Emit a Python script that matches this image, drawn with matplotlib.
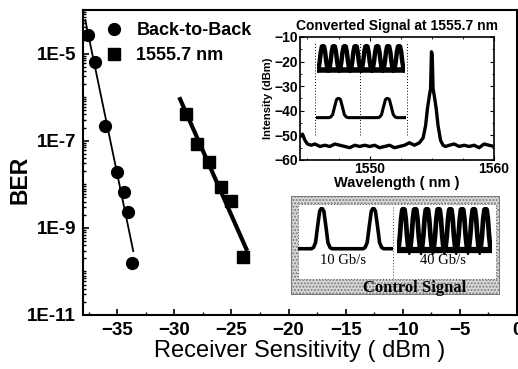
import numpy as np
import matplotlib
matplotlib.use("Agg")
import matplotlib.pyplot as plt
from matplotlib.ticker import FixedLocator, LogLocator, MultipleLocator, NullFormatter
from matplotlib.patches import Rectangle

plt.rcParams['font.family'] = ['Liberation Sans', 'DejaVu Sans']

# ---------------- data ----------------
b2b_x = [-37.55, -36.95, -36.05, -35.05, -34.4, -34.1, -33.75]
b2b_ber = [2.6e-5, 6.3e-6, 2.2e-7, 1.9e-8, 6.8e-9, 2.3e-9, 1.6e-10]
conv_x = [-29.0, -28.0, -26.95, -25.95, -25.0, -23.95]
conv_ber = [4.2e-7, 8.5e-8, 3.2e-8, 8.7e-9, 4.2e-9, 2.2e-10]
b2b_fit_range = [-37.8, -33.6]
conv_fit_range = [-29.5, -23.7]

x_ticks = [-35, -30, -25, -20, -15, -10, -5, 0]
y_ticks = [1e-11, 1e-9, 1e-7, 1e-5]
y_ticklabels = ['1E-11', '1E-9', '1E-7', '1E-5']

# inset spectrum (converted signal)
spec_wl = [1544.4, 1544.6, 1544.8, 1545.0, 1545.3, 1545.6, 1546.0, 1546.4, 1546.8, 1547.2,
           1547.6, 1548.0, 1548.4, 1548.8, 1549.2, 1549.6, 1550.0, 1550.4, 1550.8, 1551.2,
           1551.6, 1552.0, 1552.4, 1552.8, 1553.2, 1553.6, 1554.0, 1554.3, 1554.5, 1554.65,
           1554.8, 1554.9, 1554.97, 1555.03, 1555.1, 1555.2, 1555.35, 1555.5, 1555.7, 1555.9,
           1556.1, 1556.4, 1556.8, 1557.2, 1557.6, 1558.0, 1558.4, 1558.8, 1559.2, 1559.6, 1560.0]
spec_db = [-50.5, -49.5, -52.0, -53.5, -54.0, -53.5, -54.5, -54.0, -54.5, -53.5,
           -54.0, -54.5, -55.0, -54.0, -54.5, -54.0, -54.5, -54.0, -55.0, -54.5,
           -54.0, -55.0, -54.5, -54.0, -53.0, -54.0, -53.0, -51.0, -46.0, -39.0,
           -34.0, -31.0, -16.0, -17.0, -31.0, -34.0, -39.0, -46.0, -52.0, -54.0,
           -54.5, -54.0, -53.5, -54.5, -54.0, -54.5, -54.0, -55.0, -53.5, -54.0, -54.5]

# one pulse (normalised) as seen on the oscilloscope traces
pulse_shape = [0.0, 0.08, 0.35, 0.75, 0.97, 1.0, 0.97, 0.75, 0.35, 0.08]
n_pulses_40g = 8
ten_gb_trace = ([0.0] * 6 + [0.0, 0.03, 0.15, 0.55, 0.92, 1.0, 0.92, 0.55, 0.15, 0.03, 0.0]
                + [0.0] * 14 + [0.0, 0.03, 0.15, 0.55, 0.92, 1.0, 0.92, 0.55, 0.15, 0.03, 0.0] + [0.0] * 4)

# ---------------- figure ----------------
W, H = 518, 369
fig = plt.figure(figsize=(W / 100, H / 100), dpi=100)

def fax(x0, y0, x1, y1):
    return [x0 / W, 1 - y1 / H, (x1 - x0) / W, (y1 - y0) / H]

ax = fig.add_axes(fax(83, 10, 517, 315))
ax.set_yscale('log')
ax.set_xlim(-38, 0)
ax.set_ylim(1e-11, 1e-4)

# fit lines
p1 = np.polyfit(b2b_x, np.log10(b2b_ber), 1)
xx = np.array(b2b_fit_range)
ax.plot(xx, 10 ** np.polyval(p1, xx), color='black', lw=1.3, zorder=2)
p2 = np.polyfit(conv_x, np.log10(conv_ber), 1)
xx = np.array(conv_fit_range)
ax.plot(xx, 10 ** np.polyval(p2, xx), color='black', lw=3, zorder=2)

ax.plot(b2b_x, b2b_ber, 'o', color='black', ms=8.5, ls='none', label='Back-to-Back', zorder=3)
ax.plot(conv_x, conv_ber, 's', color='black', ms=8, ls='none', label='1555.7 nm', zorder=3)

ax.xaxis.set_major_locator(FixedLocator(x_ticks))
ax.xaxis.set_minor_locator(MultipleLocator(2.5))
ax.yaxis.set_major_locator(FixedLocator(y_ticks))
ax.set_yticklabels(y_ticklabels)
ax.yaxis.set_minor_locator(LogLocator(base=10, subs=np.arange(1, 10), numticks=50))
ax.yaxis.set_minor_formatter(NullFormatter())
ax.tick_params(which='both', direction='in', top=False, right=False)
ax.tick_params(which='major', length=4, width=1.2, labelsize=13.5, pad=5)
ax.tick_params(which='minor', length=2.5, width=1)
for lab in ax.get_xticklabels() + ax.get_yticklabels():
    lab.set_fontweight('bold')
for s in ax.spines.values():
    s.set_linewidth(1.5)
ax.set_xlabel('Receiver Sensitivity ( dBm )', fontsize=17, labelpad=1)
ax.set_ylabel('BER', fontsize=16.5, fontweight='bold')
ax.yaxis.set_label_coords(-0.118, 0.443)

leg = ax.legend(loc='upper left', bbox_to_anchor=(0.025, 0.995), frameon=False,
                prop={'size': 13, 'weight': 'bold'},
                handletextpad=0.75, labelspacing=0.45, handlelength=1.0, borderaxespad=0.2)

# ---------------- inset: converted spectrum ----------------
ax2 = fig.add_axes(fax(300, 37, 494, 160))
ax2.plot(spec_wl, spec_db, color='black', lw=2.4)
ax2.set_xlim(1544.4, 1560)
ax2.set_ylim(-60, -10)
ax2.set_xticks([1550, 1560])
ax2.set_yticks([-60, -50, -40, -30, -20, -10])
ax2.xaxis.set_minor_locator(MultipleLocator(2.5))
ax2.yaxis.set_minor_locator(MultipleLocator(5))
ax2.tick_params(which='both', direction='in', top=True, right=True)
ax2.tick_params(which='major', length=3, labelsize=10, pad=1.5)
ax2.tick_params(which='minor', length=1.5)
for lab in ax2.get_xticklabels() + ax2.get_yticklabels():
    lab.set_fontweight('bold')
for s in ax2.spines.values():
    s.set_linewidth(1.2)
ax2.set_title('Converted Signal at 1555.7 nm', fontsize=10, fontweight='bold', pad=5)
ax2.set_xlabel('Wavelength ( nm )', fontsize=10.5, fontweight='bold', labelpad=0)
ax2.set_ylabel('Intensity (dBm)', fontsize=8, fontweight='bold', labelpad=1)

# eye traces inside the spectrum inset
train = np.array(pulse_shape * n_pulses_40g + [0.0])
ax3 = fig.add_axes(fax(317, 44, 405, 73))
ax3.plot(np.arange(len(train)), train, color='black', lw=3.2, solid_joinstyle='miter')
ax3.plot([0, len(train) - 1], [0, 0], color='black', lw=4)
ax3.set_xlim(-0.5, len(train) - 0.5)
ax3.set_ylim(-0.12, 1.08)
ax3.axis('off')

t10 = np.arange(len(ten_gb_trace))
ax3b = fig.add_axes(fax(316, 97, 406, 120))
ax3b.plot(t10, ten_gb_trace, color='black', lw=2.2)
ax3b.set_xlim(-0.5, len(ten_gb_trace) - 0.5)
ax3b.set_ylim(-0.12, 1.05)
ax3b.axis('off')

for xp in (315, 360, 407):
    fig.add_artist(plt.Line2D([xp / W, xp / W], [1 - 135 / H, 1 - 42 / H], color='black',
                              lw=0.7, ls=(0, (1, 2))))

# ---------------- inset: control signal ----------------
ax4 = fig.add_axes(fax(291, 196, 500, 295))
ax4.set_xlim(0, 1)
ax4.set_ylim(0, 1)
ax4.add_patch(Rectangle((0, 0), 1, 1, facecolor='#d9d9d9', edgecolor='#7a7a7a', hatch='.....',
                        lw=1.4))
ax4.add_patch(Rectangle((0.033, 0.16), 0.948, 0.76, facecolor='white', edgecolor='#555555',
                        lw=0.7, ls=(0, (1, 2))))
ax4.plot([0.488, 0.488], [0.17, 0.9], color='#444444', lw=0.7, ls=(0, (1, 2)))
serif = ['Liberation Serif', 'DejaVu Serif']
ax4.text(0.25, 0.35, '10 Gb/s', ha='center', va='center', fontsize=10.5, family=serif)
ax4.text(0.725, 0.35, '40 Gb/s', ha='center', va='center', fontsize=10.5, family=serif)
ax4.text(0.593, 0.075, 'Control Signal', ha='center', va='center', fontsize=12,
         fontweight='bold', family=serif)
ax4.set_xticks([])
ax4.set_yticks([])
for s in ax4.spines.values():
    s.set_visible(False)

ax5 = fig.add_axes(fax(298, 207, 393, 252))
ax5.plot(t10, ten_gb_trace, color='black', lw=2.6)
ax5.set_xlim(-0.5, len(ten_gb_trace) - 0.5)
ax5.set_ylim(-0.08, 1.02)
ax5.axis('off')

ax6 = fig.add_axes(fax(397, 207, 492, 255))
ax6.plot(np.arange(len(train)), train, color='black', lw=3.4, solid_joinstyle='miter')
ax6.plot([0, len(train) - 1], [0, 0], color='black', lw=4.5)
ax6.set_xlim(-0.5, len(train) - 0.5)
ax6.set_ylim(-0.12, 1.04)
ax6.axis('off')

fig.savefig('out.png', dpi=100)
